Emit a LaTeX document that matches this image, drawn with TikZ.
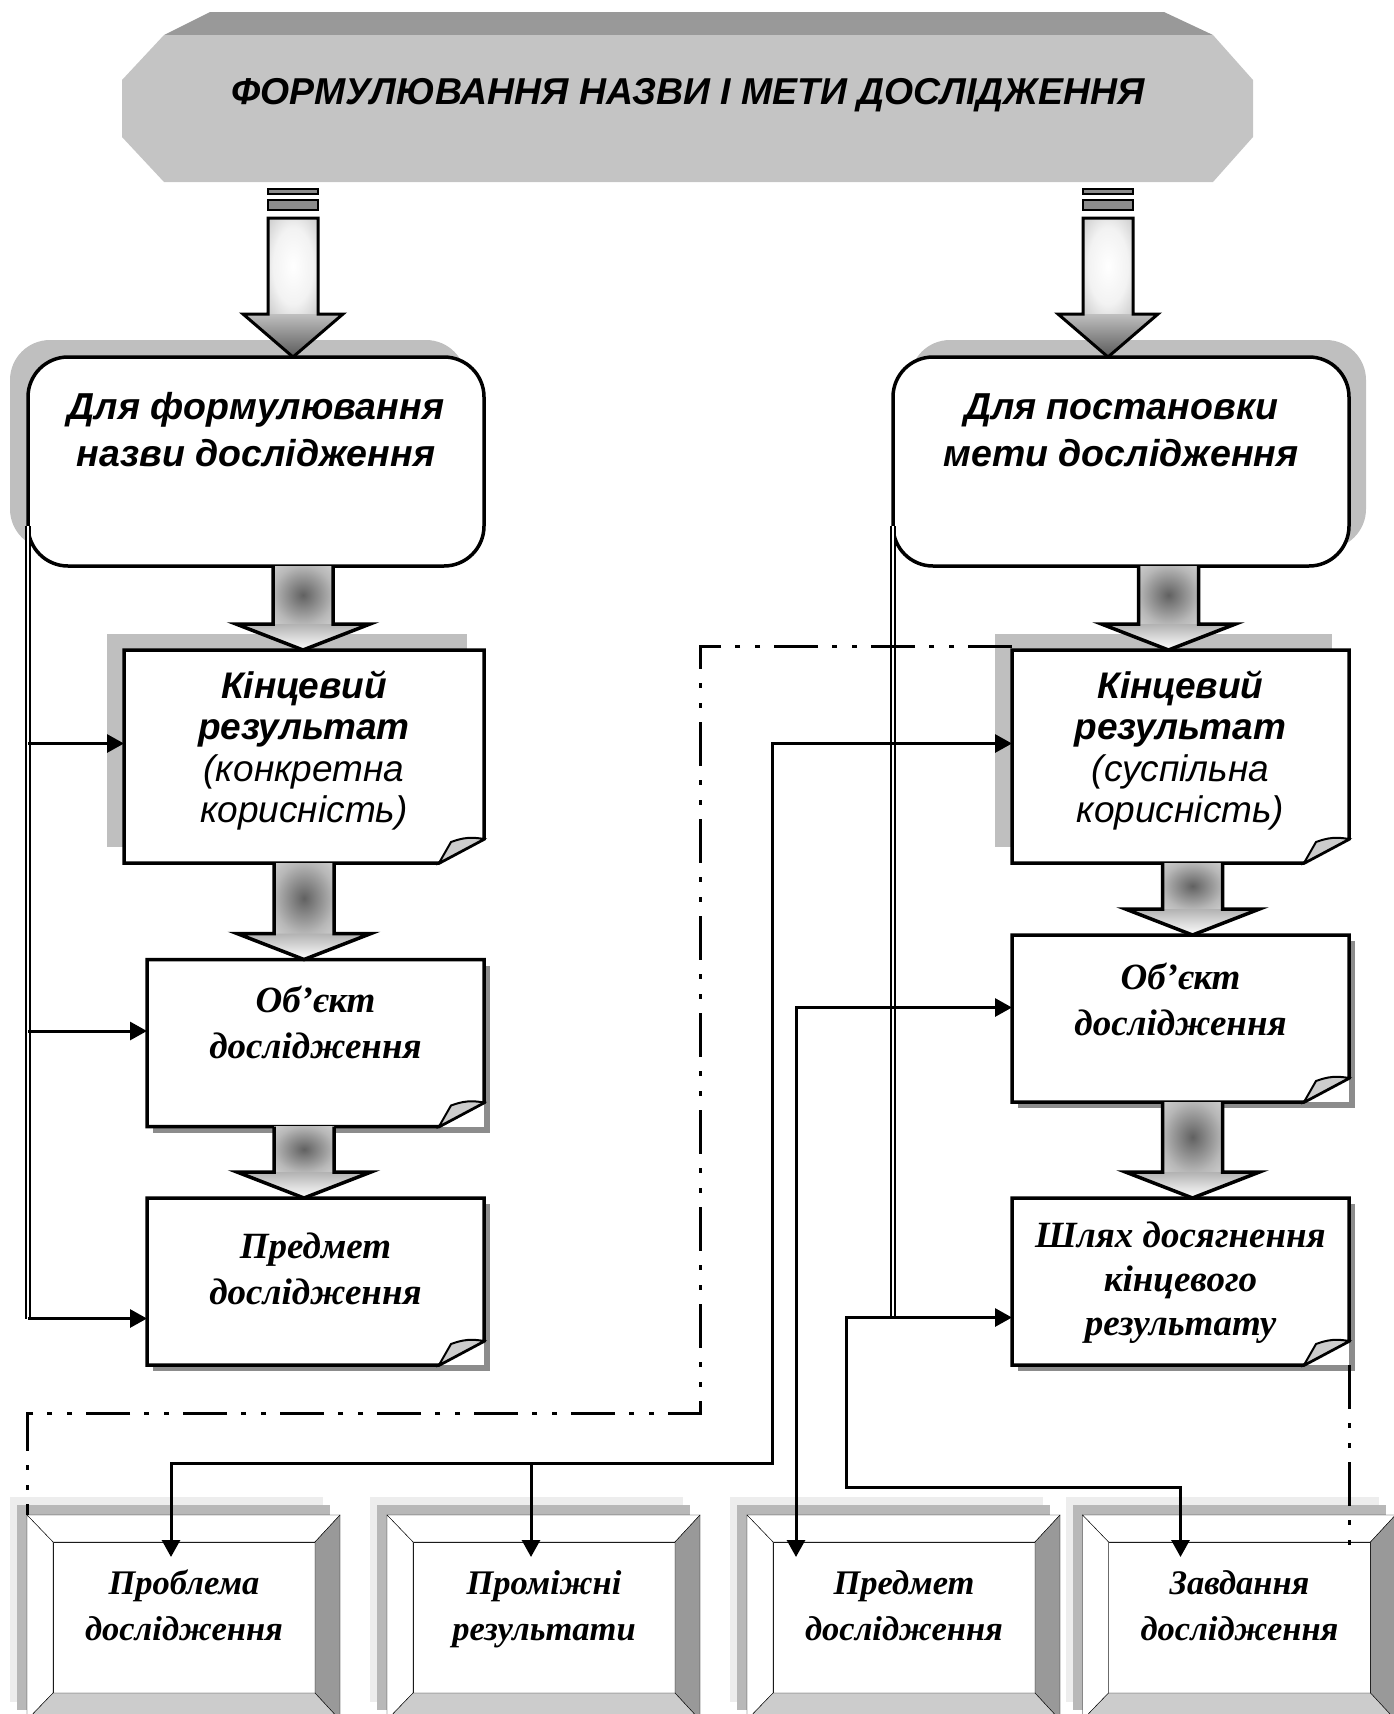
\documentclass[tikz,border=0pt]{standalone}
\usepackage{fontspec}
\setmainfont{Liberation Serif}
\newfontfamily\headfont{Liberation Sans}
\usepackage{tikz}
\usetikzlibrary{arrows.meta}
\usetikzlibrary{calc}
\usetikzlibrary{positioning}
\usetikzlibrary{shadows}
\usetikzlibrary{backgrounds}

\pgfdeclareradialshading{shaftdark}{\pgfpoint{0bp}{0bp}}{color(0bp)=(black!62); color(25bp)=(black!28); color(50bp)=(black!8); color(72bp)=(white)}
\pgfdeclareradialshading{shaftlight}{\pgfpoint{0bp}{0bp}}{color(0bp)=(white); color(20bp)=(black!5); color(50bp)=(black!35); color(72bp)=(black!45)}

% big shaded arrow between two boxes: #1 start of shaft, #2 tip
\newcommand{\bigarrow}[2]{%
  \path let \p1=#1, \p2=#2 in coordinate (ba-top) at (\x2,\y1) coordinate (ba-tip) at (\x2,\y2);
  \shade[shading=shaftdark] ($(ba-top)+(-30,0)$) rectangle ($(ba-tip)+(30,-26)$);
  \shade[top color=black!30, bottom color=white] ($(ba-tip)+(-67,-26)$) -- ($(ba-tip)+(67,-26)$) -- (ba-tip) -- cycle;
  \draw[line width=3.5pt, line join=miter] ($(ba-top)+(-30,0)$) -- ($(ba-tip)+(-30,-26)$) -- ($(ba-tip)+(-67,-26)$) -- (ba-tip) -- ($(ba-tip)+(67,-26)$) -- ($(ba-tip)+(30,-26)$) -- ($(ba-top)+(30,0)$);}

% striped arrow from the title banner
\newcommand{\feedarrow}[2]{%
  \path let \p1=#1, \p2=#2 in coordinate (fa-top) at (\x2,\y1) coordinate (fa-tip) at (\x2,\y2);
  \filldraw[fill=black!45, line width=1.5pt] ($(fa-top)+(-25,0)$) rectangle ($(fa-top)+(25,5)$);
  \filldraw[fill=black!45, line width=1.5pt] ($(fa-top)+(-25,11)$) rectangle ($(fa-top)+(25,21)$);
  \shade[shading=shaftlight] ($(fa-top)+(-25,29)$) rectangle ($(fa-tip)+(25,-43)$);
  \shade[top color=black!25, bottom color=black!65] ($(fa-tip)+(-50,-43)$) -- ($(fa-tip)+(50,-43)$) -- (fa-tip) -- cycle;
  \draw[line width=3pt, line join=miter] ($(fa-top)+(-25,29)$) -- ($(fa-tip)+(-25,-43)$) -- ($(fa-tip)+(-50,-43)$) -- (fa-tip) -- ($(fa-tip)+(50,-43)$) -- ($(fa-tip)+(25,-43)$) -- ($(fa-top)+(25,29)$) -- cycle;}

% page outline with a folded corner
\newcommand{\foldpage}[1]{%
  \draw[line width=3.5pt, line join=miter] (#1.north west) -- (#1.north east) -- ($(#1.south east)+(0,-24)$) -- ($(#1.south east)+(-45,0)$) -- (#1.south west) -- cycle;
  \draw[line width=2pt, fill=black!20] ($(#1.south east)+(-45,0)$) -- ($(#1.south east)+(-33,-21)$) to[bend left=15] ($(#1.south east)+(0,-24)$) -- cycle;}

% bevelled frame round a bottom box
\newcommand{\bevelbox}[1]{%
  \begin{scope}[on background layer, line width=3.5pt, line join=miter]
    \coordinate (#1-onw) at ($(#1.north west)+(-26,-27)$);
    \coordinate (#1-one) at ($(#1.north east)+(25,-27)$);
    \coordinate (#1-ose) at ($(#1.south east)+(25,27)$);
    \coordinate (#1-osw) at ($(#1.south west)+(-26,27)$);
    \fill[black!7] ($(#1-onw)+(-17,-18)$) rectangle ($(#1-ose)+(-17,-18)$);
    \fill[black!28] ($(#1-onw)+(-10,-10)$) rectangle ($(#1-ose)+(-10,-10)$);
    \filldraw[fill=white] (#1.north west) rectangle (#1.south east);
    \filldraw[fill=white] (#1-onw) -- (#1-one) -- (#1.north east) -- (#1.north west) -- cycle;
    \filldraw[fill=white] (#1-onw) -- (#1.north west) -- (#1.south west) -- (#1-osw) -- cycle;
    \filldraw[fill=black!40] (#1-one) -- (#1-ose) -- (#1.south east) -- (#1.north east) -- cycle;
    \filldraw[fill=black!20] (#1-osw) -- (#1.south west) -- (#1.south east) -- (#1-ose) -- cycle;
  \end{scope}}

\begin{document}
\begin{tikzpicture}[x=1pt,y=-1pt,>={Triangle[length=17pt,width=18pt]},
    title node/.style={font=\headfont\bfseries\itshape\fontsize{37.4}{40}\selectfont},
    round node/.style={rectangle,draw,fill=white,line width=3.5pt,rounded corners=40pt,minimum width=456pt,minimum height=209pt,inner sep=0pt,outer sep=0pt,align=center,text height=9pt,text depth=0pt,font=\headfont\bfseries\itshape\fontsize{37.5}{47}\selectfont},
    page node/.style={rectangle,fill=white,minimum width=337pt,minimum height=167pt,inner sep=0pt,outer sep=0pt,align=center,text height=30pt,text depth=0pt,font=\bfseries\itshape\fontsize{37}{46}\selectfont},
    object node/.style={page node,general shadow={fill=black!45,shadow xshift=6pt,shadow yshift=-6pt}},
    result node/.style={page node,minimum height=213pt,text height=132pt,font=\headfont\itshape\fontsize{37}{41.5}\selectfont,general shadow={fill=black!25,shadow xshift=-17pt,shadow yshift=16pt}},
    bevel node/.style={rectangle,minimum width=262pt,minimum height=151pt,inner sep=0pt,outer sep=0pt,align=center,text height=45pt,text depth=0pt,font=\bfseries\itshape\fontsize{34.5}{46}\selectfont},
    link/.style={line width=3pt},
    bus/.style={double,line width=1.6pt,double distance=2.5pt},
    dashdot/.style={line width=3pt,dash pattern=on 44pt off 14pt on 5pt off 15pt on 5pt off 14pt}]

    \useasboundingbox (0,0) rectangle (1393,1714);

    % title banner
    \fill[black!40] (210,12) -- (1164,12) -- (1213,35) -- (164,35) -- cycle;
    \fill[black!23] (164,35) -- (1213,35) -- (1253,80) -- (1253,137) -- (1213,182) -- (164,182) -- (122,137) -- (122,80) -- cycle;
    \node[title node] (title) at (688,95) {ФОРМУЛЮВАННЯ НАЗВИ І МЕТИ ДОСЛІДЖЕННЯ};

    \node[round node,general shadow={fill=black!25,shadow xshift=-18pt,shadow yshift=17pt}] (name-box) at (256,461.5) {Для формулювання\\назви дослідження};
    \node[round node,general shadow={fill=black!25,shadow xshift=17pt,shadow yshift=17pt},on grid,right=865pt of name-box] (aim-box) {Для постановки\\мети дослідження};

    \node[result node,minimum width=360pt,on grid,below right=295pt and 48pt of name-box] (result-left) {{\bfseries Кінцевий}\\{\bfseries результат}\\(конкретна\\корисність)};
    \node[object node,on grid,below right=286.5pt and 11.5pt of result-left] (object-left) {Об’єкт\\дослідження};
    \node[object node,text height=45pt,on grid,below=238.5pt of object-left] (subject-left) {Предмет\\дослідження};

    \node[result node,on grid,below right=295pt and 59.5pt of aim-box] (result-right) {{\bfseries Кінцевий}\\{\bfseries результат}\\(суспільна\\корисність)};
    \node[object node,text height=33pt,on grid,below=262pt of result-right] (object-right) {Об’єкт\\дослідження};
    \node[object node,text height=107pt,font=\bfseries\itshape\fontsize{37}{44}\selectfont,on grid,below=263pt of object-right] (way-right) {Шлях досягнення\\кінцевого\\результату};

    \node[bevel node,on grid,below left=336pt and 131.5pt of subject-left] (problem) {Проблема\\дослідження};
    \node[bevel node,on grid,right=360pt of problem] (interim) {Проміжні\\результати};
    \node[bevel node,on grid,right=360pt of interim] (subject-bottom) {Предмет\\дослідження};
    \node[bevel node,on grid,right=335.5pt of subject-bottom] (tasks) {Завдання\\дослідження};

    \foldpage{result-left}
    \foldpage{object-left}
    \foldpage{subject-left}
    \foldpage{result-right}
    \foldpage{object-right}
    \foldpage{way-right}

    \bevelbox{problem}
    \bevelbox{interim}
    \bevelbox{subject-bottom}
    \bevelbox{tasks}

    % shaded arrows
    \feedarrow{($(title)+(0,94)$)}{($(name-box.north)+(37,0)$)}
    \feedarrow{($(title)+(0,94)$)}{($(aim-box.north)+(-13,0)$)}
    \bigarrow{(name-box.south)}{($(result-left.north)+(-1,0)$)}
    \bigarrow{(result-left.south)}{(result-left.south |- object-left.north)}
    \bigarrow{(object-left.south)}{(result-left.south |- subject-left.north)}
    \bigarrow{(aim-box.south)}{($(result-right.north)+(-12,0)$)}
    \bigarrow{(result-right.south)}{($(object-right.north)+(12,0)$)}
    \bigarrow{(object-right.south)}{($(way-right.north)+(12,0)$)}

    % left bus
    \coordinate (bus-left) at ($(name-box.south west)+(0,-40)$);
    \draw[bus] (bus-left) -- ($(bus-left |- subject-left.west)+(0,37)$);
    \draw[link,->] ($(bus-left |- result-left.west)+(0,-13)$) -- ($(result-left.west)+(0,-13)$);
    \draw[link,->] ($(bus-left |- object-left.west)+(0,-12)$) -- ($(object-left.west)+(0,-12)$);
    \draw[link,->] ($(bus-left |- subject-left.west)+(0,37)$) -- ($(subject-left.west)+(0,37)$);

    % right buses
    \coordinate (bus-mid) at ($(aim-box.south west)+(0,-40)$);
    \coordinate (bus-result) at (772,1463);
    \coordinate (bus-way) at (846,1487);
    \draw[bus] (bus-mid) -- ($(bus-mid |- way-right.west)+(0,36)$);
    \draw[link,<->] ($(result-right.west)+(0,-13)$) -| (bus-result) -| ($(problem.north)+(-13,15)$);
    \draw[link,->] ($(bus-result -| interim.north)+(-13,0)$) -- ($(interim.north)+(-13,15)$);
    \draw[link,<->] ($(object-right.west)+(0,-11)$) -| ($(subject-bottom.north)+(-108,15)$);
    \draw[link,<->] ($(way-right.west)+(0,36)$) -| (bus-way) -| ($(tasks.north)+(-59,15)$);

    % dash-dotted frames
    \coordinate (dash-corner) at (700,1413);
    \draw[dashdot] ($(result-right.north west)+(0,-4)$) -| (dash-corner) -| ($(problem.north west)+(-26,-27)$);
    \draw[dashdot] (way-right.south east) -- ($(way-right.east |- tasks.north)+(0,15)$);

\end{tikzpicture}
\end{document}
